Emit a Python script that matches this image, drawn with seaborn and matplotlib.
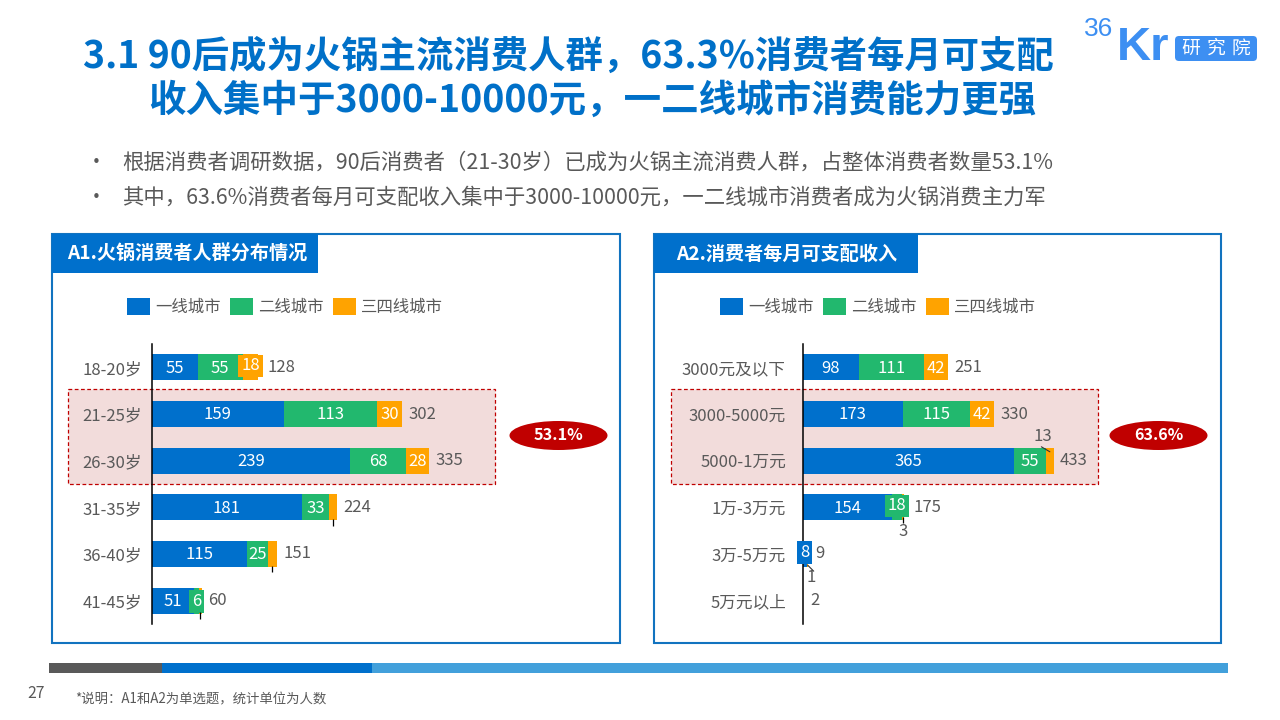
"""
36Kr hotpot report slide: two stacked bar panels by age and by monthly income.
"""

import matplotlib.pyplot as plt
import pandas as pd
import seaborn as sns
from matplotlib.patches import Ellipse, FancyBboxPatch, Rectangle

age_groups = ['18-20岁', '21-25岁', '26-30岁', '31-35岁', '36-40岁', '41-45岁']
age_tier1 = [55, 159, 239, 181, 115, 51]
age_tier2 = [55, 113, 68, 33, 25, 6]
age_tier3 = [18, 30, 28, 10, 11, 3]
age_totals = [128, 302, 335, 224, 151, 60]

income_groups = ['3000元及以下', '3000-5000元', '5000-1万元', '1万-3万元', '3万-5万元', '5万元以上']
income_tier1 = [98, 173, 365, 154, 8, 0]
income_tier2 = [111, 115, 55, 18, 0, 0]
income_tier3 = [42, 42, 13, 3, 1, 0]
income_totals = [251, 330, 433, 175, 9, 2]

tier_names = ['一线城市', '二线城市', '三四线城市']

BLUE = '#0070CC'
GREEN = '#22B86E'
ORANGE = '#FFA300'
RED = '#C00000'
GREY = '#595959'
FRAME = '#1273BF'
TITLE = '#0070C8'
LOGO = '#3D8FF2'

sns.set_theme(style='white')
plt.rcParams['font.family'] = ['Noto Sans CJK SC', 'DejaVu Sans']
plt.rcParams['axes.unicode_minus'] = False

fig = plt.figure(figsize=(12.8, 7.2), dpi=100, facecolor='white')

# background axes in pixel coordinates for the slide furniture
bg = fig.add_axes([0, 0, 1, 1], zorder=0)
bg.set_xlim(0, 1280)
bg.set_ylim(720, 0)
bg.axis('off')


def px_axes(x0, y0, x1, y1):
    """Axes from pixel corners (y counted from the top)."""
    return fig.add_axes([x0 / 1280, 1 - y1 / 720, (x1 - x0) / 1280, (y1 - y0) / 720], zorder=2)


def draw_slide():
    bg.text(83, 56, '3.1 90后成为火锅主流消费人群，63.3%消费者每月可支配',
            fontsize=26.9, fontweight='bold', color=TITLE, va='center')
    bg.text(148, 100, '收入集中于3000-10000元，一二线城市消费能力更强',
            fontsize=27, fontweight='bold', color=TITLE, va='center')

    bullets = ['根据消费者调研数据，90后消费者（21-30岁）已成为火锅主流消费人群，占整体消费者数量53.1%',
               '其中，63.6%消费者每月可支配收入集中于3000-10000元，一二线城市消费者成为火锅消费主力军']
    for y, line in zip([163, 198], bullets):
        bg.text(96, y, '•', fontsize=15, color=GREY, va='center', ha='center')
        bg.text(122, y, line, fontsize=15.4, color=GREY, va='center')

    # logo
    bg.text(1084, 29, '36', fontsize=19, color=LOGO, va='center', family='Liberation Sans')
    bg.text(1117, 60, 'Kr', fontsize=34, fontweight='bold', color=LOGO, va='baseline', family='Liberation Sans')
    bg.add_patch(FancyBboxPatch((1175, 36), 82, 25, boxstyle='round,pad=0,rounding_size=4', fc=LOGO, ec='none'))
    for x, ch in zip([1191, 1216, 1241], '研究院'):
        bg.text(x, 48.5, ch, fontsize=13.5, color='white', va='center', ha='center')

    # footer strip
    for x0, x1, color in [(49, 162, GREY), (162, 372, BLUE), (372, 1228, '#42A0DB')]:
        bg.add_patch(Rectangle((x0, 663), x1 - x0, 10, fc=color, ec='none'))
    bg.text(27, 694, '27', fontsize=11.3, color=GREY, va='center')
    bg.text(75, 699, '*说明：A1和A2为单选题，统计单位为人数', fontsize=9.65, color=GREY, va='center')


def draw_panel(frame, header_x1, title, title_x, band, ellipse_x, share):
    x0, x1 = frame
    bg.add_patch(Rectangle((x0, 234), x1 - x0, 409, fc='white', ec=FRAME, lw=1.5))
    bg.add_patch(Rectangle((x0, 234), header_x1 - x0, 39, fc=BLUE, ec='none'))
    bg.text(title_x, 254, title, fontsize=13.75, fontweight='bold', color='white', va='center')
    bg.add_patch(Rectangle((band[0], 389), band[1] - band[0], 94.5, fc='#F2DCDB', ec=RED,
                           lw=0.9, ls=(0, (3, 2))))
    bg.add_patch(Ellipse((ellipse_x, 435.5), 98, 29, fc=RED, ec='none'))
    bg.text(ellipse_x, 435, share, fontsize=11.7, fontweight='bold', color='white', va='center', ha='center')


def draw_bars(ax, groups, tier1, tier2, tier3, totals, tick_pad, nudges):
    """Stack by overdrawing the cumulative totals from longest to shortest."""
    df = pd.DataFrame({'group': groups, 'a': tier1, 'b': tier2, 'c': tier3})
    df['ab'] = df['a'] + df['b']
    df['abc'] = df['ab'] + df['c']

    for col, color, name in [('abc', ORANGE, tier_names[2]), ('ab', GREEN, tier_names[1]), ('a', BLUE, tier_names[0])]:
        sns.barplot(data=df, x=col, y='group', order=groups, color=color, saturation=1,
                    width=26 / 46.67, ax=ax, label=name, linewidth=0)

    ax.set_ylim(5.5, -0.5)
    ax.patch.set_alpha(0)
    ax.set_xlabel('')
    ax.set_ylabel('')
    ax.xaxis.set_visible(False)
    sns.despine(ax=ax, left=False, bottom=True)
    ax.spines['left'].set_color('black')
    ax.spines['left'].set_linewidth(1.1)
    ax.tick_params(axis='y', length=0, pad=tick_pad, labelsize=12, labelcolor=GREY)

    for i, total in enumerate(totals):
        ax.annotate(str(total), (total, i), xytext=(4.5 + nudges.get(i, 0), 0), textcoords='offset points',
                    fontsize=12, color=GREY, va='center', ha='left')


def seg_label(ax, value, start, row, color=None, dy=-0.5):
    """White value label centred on a segment, boxed when the segment is too thin."""
    bbox = dict(fc=color, ec='none', pad=2) if color else None
    ax.annotate(str(value), (start + value / 2, row), xytext=(0, dy), textcoords='offset points',
                fontsize=12, color='white', va='center', ha='center', bbox=bbox, zorder=5)


def leader_tick(ax, x, row):
    ax.plot([x, x], [row + 0.2, row + 0.34], color='black', lw=0.9, solid_capstyle='butt', zorder=6)


def leader_line(ax, x, y, dx, dy):
    ax.annotate('', xy=(x, y), xytext=(dx, dy), textcoords='offset pixels',
                arrowprops=dict(arrowstyle='-', lw=0.8, color='#333333', shrinkA=0, shrinkB=0), zorder=6)


draw_slide()
draw_panel((52, 620), 318, 'A1.火锅消费者人群分布情况', 67, (68, 495), 558.5, '53.1%')
draw_panel((654, 1221), 918, 'A2.消费者每月可支配收入', 676, (671, 1098), 1158.5, '63.6%')

# left panel
ax1 = px_axes(152, 344, 152 + 540 * 0.828, 624)
ax1.set_xlim(0, 540)
draw_bars(ax1, age_groups, age_tier1, age_tier2, age_tier3, age_totals, 7, {0: 2})
for i in range(len(age_groups)):
    a, b, c = age_tier1[i], age_tier2[i], age_tier3[i]
    seg_label(ax1, a, 0, i)
    seg_label(ax1, b, a, i, GREEN if b < 10 else None)
    if c >= 18:
        seg_label(ax1, c, a + b, i, ORANGE if c == 18 else None, dy=1 if c == 18 else -0.5)
    else:
        leader_tick(ax1, a + b + c / 2, i + 0.05)

# right panel
ax2 = px_axes(802.5, 344, 802.5 + 700 * 0.58, 624)
ax2.set_xlim(0, 700)
draw_bars(ax2, income_groups, income_tier1, income_tier2, income_tier3, income_totals, 12, {3: 2, 4: 1})
for i in range(3):
    seg_label(ax2, income_tier1[i], 0, i)
    seg_label(ax2, income_tier2[i], income_tier1[i], i)
seg_label(ax2, income_tier3[0], income_tier1[0] + income_tier2[0], 0)
seg_label(ax2, income_tier3[1], income_tier1[1] + income_tier2[1], 1)
seg_label(ax2, income_tier1[3], 0, 3)
seg_label(ax2, income_tier2[3], income_tier1[3], 3, GREEN, dy=1)
seg_label(ax2, income_tier1[4], 0, 4, BLUE, dy=1)

# small values sit outside their bars with a leader
ax2.annotate(str(income_tier3[2]), (income_totals[2] - income_tier3[2], 2), xytext=(-3, 24),
             textcoords='offset pixels', fontsize=12, color=GREY, ha='center', va='center')
ax2.annotate(str(income_tier3[3]), (income_totals[3] - 1.5, 3), xytext=(0, -24),
             textcoords='offset pixels', fontsize=12, color=GREY, ha='center', va='center')
ax2.annotate(str(income_tier3[4]), (income_totals[4] - 0.5, 4), xytext=(4, -23),
             textcoords='offset pixels', fontsize=12, color=GREY, ha='center', va='center')
leader_tick(ax2, income_totals[3] - 1.5, 3)
leader_line(ax2, income_totals[2] - income_tier3[2] / 2, 2 - 0.19, -8.5, 5)
leader_line(ax2, income_totals[4], 4 + 0.24, 6, -6)

# legends
for ax, x_left in [(ax1, 127), (ax2, 720)]:
    handles, labels = ax.get_legend_handles_labels()
    order = [2, 1, 0]
    ax.legend([handles[k] for k in order], [labels[k] for k in order],
              loc='center left', bbox_to_anchor=(x_left / 1280, 1 - 307 / 720),
              bbox_transform=fig.transFigure, ncol=3, frameon=False, fontsize=11.8,
              labelcolor=GREY, handlelength=1.4, handleheight=1.2, handletextpad=0.3,
              columnspacing=0.6, borderpad=0, borderaxespad=0)

fig.savefig('out.png', dpi=100)
plt.close(fig)
